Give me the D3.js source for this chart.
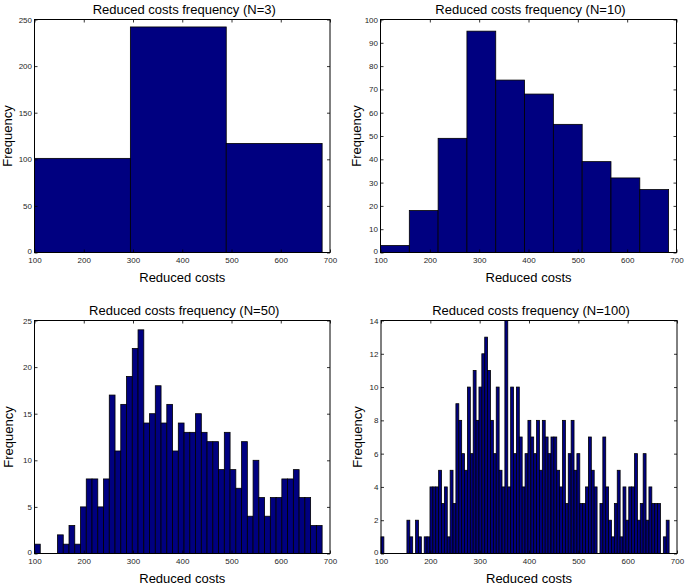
<!DOCTYPE html>
<html><head><meta charset="utf-8">
<script src="https://cdn.jsdelivr.net/npm/d3@7"></script>
<style>body{margin:0;background:#fff} svg{display:block}</style>
</head><body>
<svg id="chart" width="685" height="585"></svg>
<script>
// ---- data ----
const binRange = [100, 684];
const xTicks = [100, 200, 300, 400, 500, 600, 700];
const counts3 = [101, 242, 117];
const counts10 = [3, 18, 49, 95, 74, 68, 55, 39, 32, 27];
const counts50 = [1, 0, 0, 0, 2, 1, 3, 1, 5, 8,
                  8, 5, 8, 17, 11, 16, 19, 22, 24, 14,
                  15, 18, 14, 16, 11, 14, 13, 13, 15, 13,
                  12, 12, 9, 13, 9, 7, 12, 4, 10, 6,
                  4, 6, 6, 8, 8, 9, 6, 6, 3, 3];
const counts100 = [1, 0, 0, 0, 0, 0, 0, 0, 0, 2,
                   1, 0, 2, 1, 0, 1, 1, 4, 4, 4,
                   5, 3, 4, 1, 5, 3, 9, 8, 6, 5,
                   10, 6, 11, 8, 10, 12, 13, 11, 8, 6,
                   10, 5, 4, 14, 4, 10, 6, 10, 7, 4,
                   6, 8, 7, 6, 8, 5, 8, 7, 6, 7,
                   7, 5, 4, 8, 3, 6, 8, 5, 6, 3,
                   3, 4, 7, 5, 4, 0, 3, 7, 4, 2,
                   1, 3, 5, 1, 4, 2, 4, 4, 6, 2,
                   3, 6, 2, 4, 3, 3, 3, 0, 1, 2];
const yTicks3 = [0, 50, 100, 150, 200, 250];
const yTicks10 = [0, 10, 20, 30, 40, 50, 60, 70, 80, 90, 100];
const yTicks50 = [0, 5, 10, 15, 20, 25];
const yTicks100 = [0, 2, 4, 6, 8, 10, 12, 14];
const titles = ["Reduced costs frequency (N=3)", "Reduced costs frequency (N=10)",
                "Reduced costs frequency (N=50)", "Reduced costs frequency (N=100)"];
const xLabel = "Reduced costs";
const yLabel = "Frequency";

// ---- layout ----
const panels = [
  {counts: counts3,   yTicks: yTicks3,   title: titles[0], x0: 34.5, x1: 330, y0: 19.5,  y1: 252.5, ylx: 11.5},
  {counts: counts10,  yTicks: yTicks10,  title: titles[1], x0: 380.5, x1: 676.5, y0: 19.5, y1: 252.5, ylx: 361},
  {counts: counts50,  yTicks: yTicks50,  title: titles[2], x0: 34.5, x1: 330, y0: 320.5, y1: 553.5, ylx: 12.5},
  {counts: counts100, yTicks: yTicks100, title: titles[3], x0: 381, x1: 677, y0: 320.5, y1: 553.5, ylx: 361.5}
];

const font = "'Liberation Sans', Arial, Helvetica, sans-serif";
const svg = d3.select("#chart");

panels.forEach(p => {
  const n = p.counts.length;
  const x = d3.scaleLinear().domain([xTicks[0], xTicks[xTicks.length - 1]]).range([p.x0, p.x1]);
  const y = d3.scaleLinear().domain([0, p.yTicks[p.yTicks.length - 1]]).range([p.y1, p.y0]);
  const w = (binRange[1] - binRange[0]) / n;
  const bins = p.counts.map((c, i) => ({a: binRange[0] + i * w, b: binRange[0] + (i + 1) * w, c}));
  const g = svg.append("g");

  g.selectAll("rect.bar").data(bins.filter(d => d.c > 0)).join("rect")
    .attr("class", "bar")
    .attr("x", d => x(d.a)).attr("width", d => x(d.b) - x(d.a))
    .attr("y", d => y(d.c)).attr("height", d => y(0) - y(d.c))
    .attr("fill", "#000080").attr("stroke", "#000").attr("stroke-width", 0.8);

  const styleAxis = (sel, showText) => {
    sel.select(".domain").remove();
    sel.selectAll(".tick line").attr("stroke", "#000").attr("stroke-width", 0.8);
    sel.selectAll(".tick text").attr("fill", "#262626").style("font-family", font).style("font-size", "8px");
    if (!showText) sel.selectAll(".tick text").remove();
  };

  g.append("g").attr("transform", `translate(0,${p.y1})`)
    .call(d3.axisBottom(x).tickValues(xTicks).tickSizeInner(-3).tickSizeOuter(0).tickPadding(4.5).tickFormat(d3.format("d")))
    .call(s => styleAxis(s, true));
  g.append("g").attr("transform", `translate(0,${p.y0})`)
    .call(d3.axisTop(x).tickValues(xTicks).tickSizeInner(-3).tickSizeOuter(0))
    .call(s => styleAxis(s, false));
  const yAx = g.append("g").attr("transform", `translate(${p.x0},0)`)
    .call(d3.axisLeft(y).tickValues(p.yTicks).tickSizeInner(-3).tickSizeOuter(0).tickPadding(2.5).tickFormat(d3.format("d")))
    .call(s => styleAxis(s, true));
  // nudge the zero label up slightly so it sits just above the x labels
  yAx.selectAll(".tick").filter(d => d === 0).select("text").attr("dy", "0.1em");
  g.append("g").attr("transform", `translate(${p.x1},0)`)
    .call(d3.axisRight(y).tickValues(p.yTicks).tickSizeInner(-3).tickSizeOuter(0))
    .call(s => styleAxis(s, false));

  g.append("rect").attr("x", p.x0).attr("y", p.y0)
    .attr("width", p.x1 - p.x0).attr("height", p.y1 - p.y0)
    .attr("fill", "none").attr("stroke", "#000").attr("stroke-width", 1);

  g.append("text").attr("x", (p.x0 + p.x1) / 2 + 2).attr("y", p.y0 - 6)
    .attr("text-anchor", "middle").style("font-family", font).style("font-size", "13px")
    .attr("fill", "#000").text(p.title);
  g.append("text").attr("x", (p.x0 + p.x1) / 2).attr("y", p.y1 + 29)
    .attr("text-anchor", "middle").style("font-family", font).style("font-size", "13px")
    .attr("fill", "#000").text(xLabel);
  g.append("text").attr("transform", `translate(${p.ylx},${(p.y0 + p.y1) / 2}) rotate(-90)`)
    .attr("text-anchor", "middle").style("font-family", font).style("font-size", "13px")
    .attr("fill", "#000").text(yLabel);
});
</script>
</body></html>
